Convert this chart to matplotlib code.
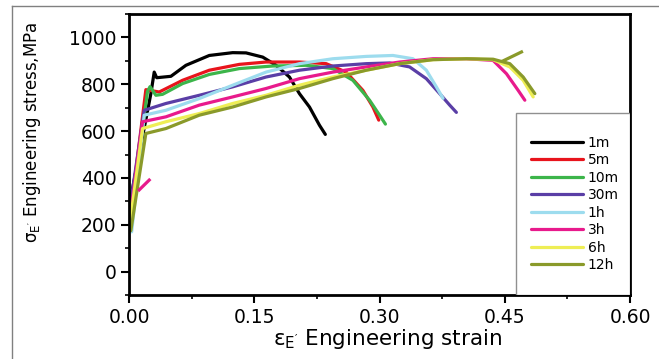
import matplotlib
matplotlib.use("Agg")
import matplotlib.pyplot as plt
from matplotlib.lines import Line2D
from matplotlib.patches import Rectangle
from matplotlib.ticker import MultipleLocator

plt.rcParams['font.family'] = ['DejaVu Sans']
plt.rcParams['mathtext.default'] = 'regular'

labels = ["1m", "5m", "10m", "30m", "1h", "3h", "6h", "12h"]
colors = ["#000000", "#e8141c", "#3cb54a", "#5a3ea6", "#9ddcee", "#e81a8c", "#eeee55", "#8a9a2a"]

strain_1m = [0.000, 0.026, 0.030, 0.033, 0.050, 0.068, 0.096, 0.124, 0.140, 0.160, 0.176, 0.192, 0.204, 0.216, 0.228, 0.235]
stress_1m = [280, 760, 852, 828, 834, 881, 923, 935, 934, 916, 881, 831, 760, 703, 625, 586]

strain_5m = [0.000, 0.020, 0.036, 0.064, 0.096, 0.132, 0.164, 0.204, 0.236, 0.260, 0.280, 0.292, 0.299]
stress_5m = [200, 777, 767, 817, 860, 885, 895, 895, 888, 852, 774, 703, 647]

strain_10m = [0.000, 0.022, 0.025, 0.032, 0.040, 0.064, 0.096, 0.132, 0.172, 0.212, 0.244, 0.268, 0.288, 0.300, 0.307]
stress_10m = [190, 770, 790, 753, 757, 803, 842, 867, 878, 881, 867, 817, 732, 668, 630]

strain_30m = [0.000, 0.018, 0.044, 0.084, 0.124, 0.164, 0.204, 0.244, 0.284, 0.312, 0.336, 0.356, 0.372, 0.384, 0.392]
stress_30m = [250, 689, 718, 753, 789, 831, 860, 878, 888, 891, 874, 824, 760, 711, 680]

strain_1h = [0.003, 0.018, 0.044, 0.084, 0.124, 0.164, 0.204, 0.244, 0.284, 0.316, 0.340, 0.356, 0.368, 0.376]
stress_1h = [170, 668, 689, 739, 796, 852, 888, 909, 919, 923, 909, 860, 789, 740]

strain_3h = [0.000, 0.016, 0.044, 0.084, 0.124, 0.164, 0.204, 0.244, 0.284, 0.324, 0.364, 0.404, 0.436, 0.452, 0.466, 0.474]
stress_3h = [200, 640, 661, 711, 746, 782, 824, 852, 874, 895, 909, 909, 902, 845, 774, 732]
strain_3h_b = [0.012, 0.024]
stress_3h_b = [349, 391]

strain_6h = [0.000, 0.016, 0.044, 0.084, 0.124, 0.164, 0.204, 0.244, 0.284, 0.324, 0.364, 0.404, 0.436, 0.456, 0.472, 0.484]
stress_6h = [180, 611, 640, 675, 718, 753, 796, 831, 860, 888, 905, 909, 905, 874, 817, 746]

strain_12h = [0.002, 0.020, 0.044, 0.084, 0.124, 0.164, 0.204, 0.244, 0.284, 0.324, 0.364, 0.404, 0.436, 0.456, 0.472, 0.486]
stress_12h = [175, 590, 611, 668, 703, 746, 782, 824, 860, 888, 905, 909, 907, 888, 831, 760]
strain_12h_b = [0.448, 0.470]
stress_12h_b = [900, 938]

series = [
    (strain_1m, stress_1m), (strain_5m, stress_5m), (strain_10m, stress_10m),
    (strain_30m, stress_30m), (strain_1h, stress_1h), (strain_3h, stress_3h),
    (strain_6h, stress_6h), (strain_12h, stress_12h),
]

fig = plt.figure(figsize=(6.59, 3.59), dpi=100)
ax = fig.add_axes([0.196, 0.178, 0.760, 0.783])

lines = []
for (x, y), lab, c in zip(series, labels, colors):
    ln, = ax.plot(x, y, color=c, lw=2.3, label=lab, solid_capstyle='round')
    lines.append(ln)
ax.plot(strain_3h_b, stress_3h_b, color=colors[5], lw=2.3)
ax.plot(strain_12h_b, stress_12h_b, color=colors[7], lw=2.3)

ax.set_xlim(0, 0.6)
ax.set_ylim(-100, 1100)
ax.set_xticks([0.0, 0.15, 0.30, 0.45, 0.60])
ax.set_xticklabels(["0.00", "0.15", "0.30", "0.45", "0.60"])
ax.xaxis.set_minor_locator(MultipleLocator(0.075))
ax.set_yticks([0, 200, 400, 600, 800, 1000])
ax.yaxis.set_minor_locator(MultipleLocator(100))
ax.tick_params(which='major', direction='out', length=6, width=1.5, labelsize=13.5, pad=3)
ax.tick_params(which='minor', direction='out', length=3, width=1.2)
for s in ax.spines.values():
    s.set_linewidth(2)

ax.set_xlabel(r"$\varepsilon_{E'}$ Engineering strain", fontsize=15.5)
ax.xaxis.set_label_coords(0.515, -0.115)
ax.set_ylabel(r"$\sigma_{E'}$ Engineering stress,MPa", fontsize=12)
ax.yaxis.set_label_coords(-0.172, 0.577)

ax.add_patch(Rectangle((0.772, 0.0), 0.228, 0.648, transform=ax.transAxes,
                       facecolor='white', edgecolor='#909090', lw=1, zorder=5))
leg = ax.legend(handles=lines, loc='center', bbox_to_anchor=(0.89, 0.324), frameon=False,
                fontsize=10, handlelength=3.75, handletextpad=0.35, labelspacing=0.25,
                borderaxespad=0)
leg.set_zorder(6)

fig.add_artist(Line2D([12/659, 1.0], [1 - 6/359, 1 - 6/359], transform=fig.transFigure,
                      color='#808080', lw=1))
fig.add_artist(Line2D([12/659, 12/659], [0, 1 - 6/359], transform=fig.transFigure,
                      color='#808080', lw=1))

fig.savefig("out.png", dpi=100)
